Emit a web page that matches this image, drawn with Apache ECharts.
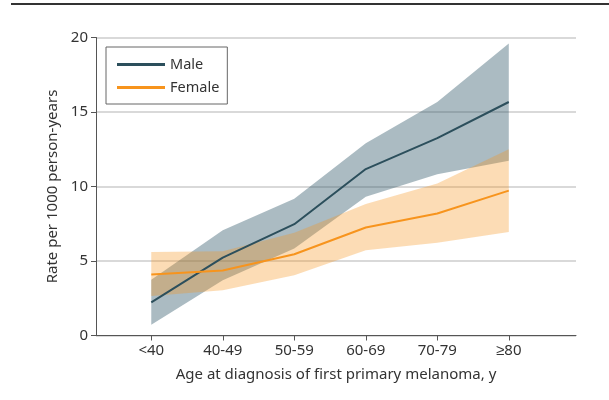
<!DOCTYPE html>
<html>
<head>
<meta charset="utf-8">
<script src="https://cdn.jsdelivr.net/npm/echarts@6/dist/echarts.min.js"></script>
<style>
html,body{margin:0;padding:0;background:#fff;}
#chart{width:609px;height:400px;}
</style>
</head>
<body>
<div id="chart"></div>
<script>
var categories = ['<40', '40-49', '50-59', '60-69', '70-79', '\u226580'];
var maleRate = [2.22, 5.23, 7.47, 11.17, 13.25, 15.67];
var maleUpper = [3.75, 7.07, 9.18, 12.9, 15.67, 19.6];
var maleLower = [0.72, 3.7, 5.84, 9.31, 10.82, 11.72];
var femaleRate = [4.09, 4.36, 5.45, 7.25, 8.19, 9.72];
var femaleUpper = [5.61, 5.66, 6.89, 8.82, 10.2, 12.5];
var femaleLower = [2.65, 3.03, 4.04, 5.72, 6.22, 6.94];
var yTicks = [0, 5, 10, 15, 20];

var FONT = '"Noto Sans", sans-serif';
var TXT = '#333';

function band(upper, lower, color) {
  return {
    type: 'custom',
    silent: true,
    data: [[0, upper[0]]],
    renderItem: function (params, api) {
      var pts = [];
      for (var i = 0; i < upper.length; i++) pts.push(api.coord([i, upper[i]]));
      for (var j = lower.length - 1; j >= 0; j--) pts.push(api.coord([j, lower[j]]));
      return { type: 'polygon', shape: { points: pts }, style: { fill: color, stroke: null } };
    },
    z: 1
  };
}

var chart = echarts.init(document.getElementById('chart'));
chart.setOption({
  animation: false,
  backgroundColor: '#fff',
  graphic: [{
    type: 'rect', left: 11, top: 3, shape: { width: 598, height: 2 }, style: { fill: '#333' }
  }],
  grid: { left: 96, right: 33, top: 37.5, bottom: 64.5, containLabel: false },
  legend: {
    orient: 'vertical',
    left: 106, top: 47,
    padding: [10, 8, 9, 11],
    borderColor: '#666', borderWidth: 1,
    itemWidth: 48, itemHeight: 3, itemGap: 8,
    icon: 'rect',
    textStyle: { fontFamily: FONT, fontSize: 14.5, color: TXT, lineHeight: 14 },
    data: ['Male', 'Female']
  },
  xAxis: {
    type: 'value',
    min: -0.773, max: 5.94,
    name: 'Age at diagnosis of first primary melanoma, y',
    nameLocation: 'middle', nameGap: 32,
    nameTextStyle: { fontFamily: FONT, fontSize: 15, color: TXT },
    axisLine: { show: true, onZero: false, lineStyle: { color: '#555', width: 1 } },
    axisTick: { show: true, length: 5, lineStyle: { color: '#555' }, customValues: [0, 1, 2, 3, 4, 5] },
    axisLabel: {
      fontFamily: FONT, fontSize: 15, color: TXT, margin: 8,
      customValues: [0, 1, 2, 3, 4, 5],
      formatter: function (v) { return categories[Math.round(v)]; }
    },
    splitLine: { show: false }
  },
  yAxis: {
    type: 'value',
    min: 0, max: 20, interval: 5,
    name: 'Rate per 1000 person-years',
    nameLocation: 'middle', nameGap: 36,
    nameTextStyle: { fontFamily: FONT, fontSize: 15, color: TXT },
    axisLine: { show: true, onZero: false, lineStyle: { color: '#555', width: 1 } },
    axisTick: { show: true, length: 5, lineStyle: { color: '#555' } },
    axisLabel: { fontFamily: FONT, fontSize: 15, color: TXT, margin: 8,
      customValues: yTicks },
    splitLine: { show: true, lineStyle: { color: '#d9d9d9', width: 2 } }
  },
  series: [
    band(maleUpper, maleLower, 'rgba(45,85,102,0.4)'),
    band(femaleUpper, femaleLower, 'rgba(247,148,29,0.33)'),
    {
      name: 'Male', type: 'line', symbol: 'none', z: 3,
      data: maleRate.map(function (v, i) { return [i, v]; }),
      itemStyle: { color: '#2c4f5c' },
      lineStyle: { color: '#2c4f5c', width: 2 }
    },
    {
      name: 'Female', type: 'line', symbol: 'none', z: 4,
      data: femaleRate.map(function (v, i) { return [i, v]; }),
      itemStyle: { color: '#f7941d' },
      lineStyle: { color: '#f7941d', width: 2 }
    }
  ]
});
</script>
</body>
</html>
